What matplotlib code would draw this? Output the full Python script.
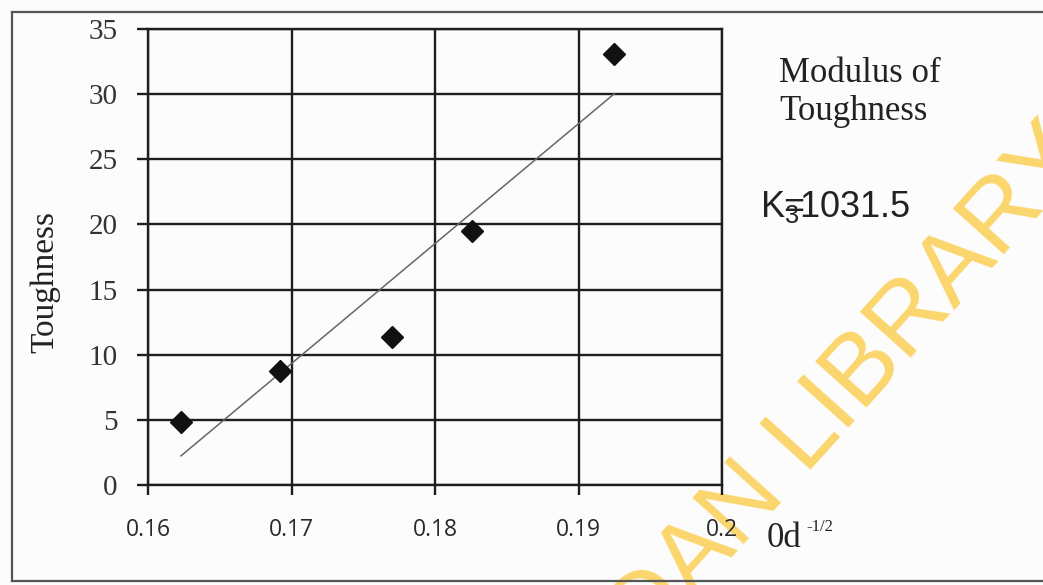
import matplotlib
matplotlib.use("Agg")
import matplotlib.pyplot as plt
from matplotlib.lines import Line2D
import numpy as np

# data
od = [0.1623, 0.1692, 0.1770, 0.1826, 0.1925]
toughness = [4.84, 8.75, 11.36, 19.5, 33.1]
x_ticks = [0.16, 0.17, 0.18, 0.19, 0.2]
x_tick_labels = ["0.16", "0.17", "0.18", "0.19", "0.2"]
y_ticks = [0, 5, 10, 15, 20, 25, 30, 35]

W, H = 1043, 585
SERIF = "Liberation Serif"
INK = "#1e1e1e"


def px(x, y):
    """pixel position -> figure fraction"""
    return x / W, 1 - y / H


fig = plt.figure(figsize=(W / 100, H / 100), dpi=100, facecolor="#fcfcfc")

l, t = px(148, 29)
r, b = px(722, 485)
ax = fig.add_axes([l, b, r - l, t - b])
ax.set_zorder(1)
ax.patch.set_alpha(0)

ax.set_xlim(0.16, 0.2)
ax.set_ylim(0, 35)
ax.set_xticks(x_ticks)
ax.set_xticklabels(x_tick_labels, family="Open Sans", fontsize=16.5, color="#2a2a2a")
ax.set_yticks(y_ticks)
ax.set_yticklabels([str(v) for v in y_ticks], family=SERIF, fontsize=21, color="#333")
ax.grid(True, color=INK, lw=1.7)
for s in ax.spines.values():
    s.set_color(INK)
    s.set_linewidth(1.7)
ax.tick_params(axis="y", direction="out", length=8, width=1.7, color=INK, pad=14)
ax.tick_params(axis="x", direction="out", length=7, width=1.7, color=INK, pad=17)

# linear trend line
k, c = np.polyfit(od, toughness, 1)
xs = np.array([od[0], od[-1]])
ax.plot(xs, k * xs + c, color="#666", lw=1.1, zorder=3)
ax.plot(od, toughness, "D", ms=11, color="#111", zorder=4)

ax.set_ylabel("Toughness", family=SERIF, fontsize=24, color="#222", va="center")
ax.yaxis.set_label_coords(-0.179, 0.446)

# text to the right
fig.text(*px(779, 82), "Modulus of", family=SERIF, fontsize=25, color="#222", va="baseline")
fig.text(*px(779, 120), "Toughness", family=SERIF, fontsize=25, color="#222", va="baseline")
fig.text(*px(760, 217), r"$\mathregular{K_{3}\!\!\!\!=\!\!1031.5}$", family="Liberation Sans",
         fontsize=26, color="#222", va="baseline")
fig.text(*px(767, 547), "0d", family=SERIF, fontsize=25, color="#222", va="baseline")
fig.text(*px(806, 531), "-1/2", family=SERIF, fontsize=12, color="#222", va="baseline")

# scanned page watermark
fig.text(*px(1091, 159), "UNIVERSITY OF IBADAN LIBRARY", family="Liberation Sans", fontsize=72,
         color="#fbd56c", rotation=48, rotation_mode="anchor", ha="right", va="baseline", zorder=0.5)

# outer frame
for xx, yy in [((12, 12), (12, 581)), ((12, W), (12, 12)), ((12, W), (581, 581))]:
    fig.add_artist(Line2D([xx[0] / W, xx[1] / W], [1 - yy[0] / H, 1 - yy[1] / H],
                          color="#555", lw=1.6, transform=fig.transFigure))

plt.savefig("out.png", dpi=100, facecolor=fig.get_facecolor())
